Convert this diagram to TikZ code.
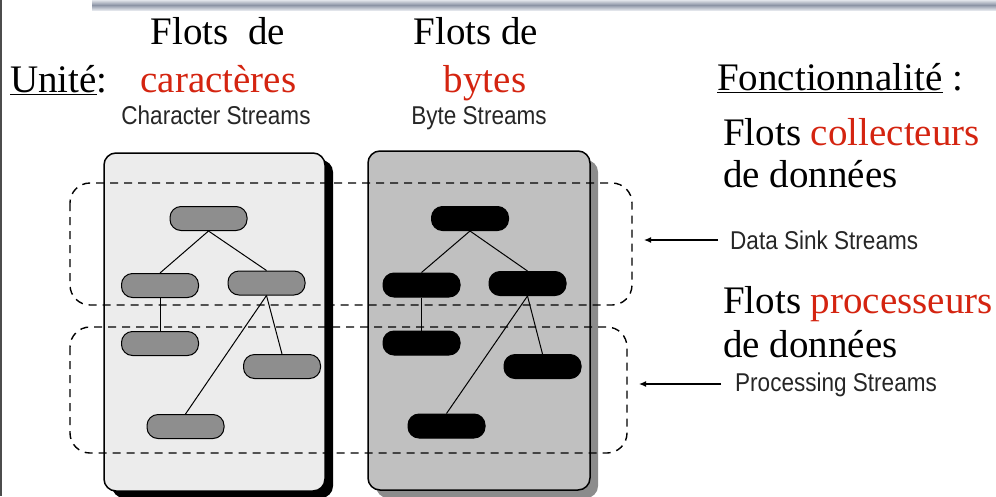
\documentclass[tikz,border=0pt]{standalone}
\usepackage{fontspec}
\setmainfont{Liberation Serif}
\newfontfamily\smallsans{Liberation Sans}
\usetikzlibrary{arrows.meta}
\definecolor{redtxt}{RGB}{212,36,16}
\definecolor{lightpanel}{RGB}{236,236,236}
\definecolor{darkpanel}{RGB}{192,192,192}
\definecolor{darkshadow}{RGB}{140,140,140}
\definecolor{graynode}{RGB}{142,142,142}
\definecolor{barmid}{RGB}{140,148,165}
\definecolor{barlight}{RGB}{225,228,234}
\newcommand{\tallsans}[1]{\scalebox{0.98}[1.12]{#1}}
\begin{document}
\begin{tikzpicture}[x=1pt,y=-1pt,
  big/.style={font=\fontsize{39}{44}\selectfont, inner sep=0pt},
  lbl/.style={font=\smallsans\fontsize{23}{26}\selectfont, inner sep=0pt, text=black!85},
  gnode/.style={draw=black, line width=1pt, fill=graynode, minimum width=77pt, minimum height=24pt, rounded corners=11pt, inner sep=0pt},
  bnode/.style={draw=black, line width=1pt, fill=black, minimum width=77pt, minimum height=24pt, rounded corners=11pt, inner sep=0pt},
  tree/.style={line width=1pt},
  dashbox/.style={dash pattern=on 8pt off 6pt, line width=1.4pt, rounded corners=20pt},
  pointer/.style={line width=1.2pt, -{Latex[length=7pt,width=6pt]}}
]
\useasboundingbox (0,0) rectangle (996,496);
% top bar and left border
\shade[top color=barlight, bottom color=barlight, middle color=barmid] (92,0) rectangle (996,10);
\draw[line width=2pt, black!70] (1,0) -- (1,496);

% panels with shadows
\fill[black, rounded corners=12pt] (112,160) rectangle (333,498);
\fill[lightpanel, draw=black, line width=1.5pt, rounded corners=12pt] (104,153) rectangle (325,491);
\fill[darkshadow, rounded corners=12pt] (376,160) rectangle (598,498);
\fill[darkpanel, draw=black, line width=1.5pt, rounded corners=12pt] (368,151) rectangle (590,490);

% left tree
\node[gnode] (L1) at (208.5,218.5) {};
\node[gnode] (L2) at (160,285.5) {};
\node[gnode] (L3) at (266.5,283) {};
\node[gnode] (L4) at (160,343.5) {};
\node[gnode] (L5) at (282,366.5) {};
\node[gnode] (L6) at (185.5,426.5) {};
\draw[tree] (L1.south) -- (L2.north);
\draw[tree] (L1.south) -- (L3.north);
\draw[tree] (L2.south) -- (L4.north);
\draw[tree] (L3.south) -- (L5.north);
\draw[tree] (L3.south) -- (L6.north);

% right tree
\node[bnode] (R1) at (470,218.5) {};
\node[bnode] (R2) at (421.5,285) {};
\node[bnode] (R3) at (527.5,283.5) {};
\node[bnode] (R4) at (421.5,343) {};
\node[bnode] (R5) at (542.5,366.5) {};
\node[bnode] (R6) at (446.5,426) {};
\draw[tree] (R1.south) -- (R2.north);
\draw[tree] (R1.south) -- (R3.north);
\draw[tree] (R2.south) -- (R4.north);
\draw[tree] (R3.south) -- (R5.north);
\draw[tree] (R3.south) -- (R6.north);

% dashed groups
\draw[dashbox] (70,183) rectangle (632,305);
\draw[dashbox] (70,327) rectangle (627,453);

% headings
\node[big, anchor=base] (fc) at (218,44) {Flots\ \ de};
\node[big, anchor=base] (fb) at (476,44) {Flots de};
\node[big, anchor=base west] (un) at (10,92) {\underline{Unité}:};
\node[big, anchor=base, text=redtxt] (car) at (218.5,92) {caractères};
\node[big, anchor=base, text=redtxt] (byt) at (485,92) {bytes};
\node[lbl, anchor=base] (cs) at (216,124) {\tallsans{Character Streams}};
\node[lbl, anchor=base] (bs) at (479,124) {\tallsans{Byte Streams}};

\node[big, anchor=base west] (fo) at (717,90) {\underline{Fonctionnalité} :};
\node[big, anchor=base west] (col) at (723,145) {Flots \textcolor{redtxt}{collecteurs}};
\node[big, anchor=base west] (dd1) at (723,187) {de données};
\node[big, anchor=base west] (pro) at (723,313) {Flots \textcolor{redtxt}{processeurs}};
\node[big, anchor=base west] (dd2) at (723,357) {de données};

% pointers
\node[lbl, anchor=base west] (ds) at (730,249) {\tallsans{Data Sink Streams}};
\node[lbl, anchor=base west] (ps) at (735,391) {\tallsans{Processing Streams}};
\coordinate (dsend) at (644,240);
\coordinate (psend) at (639,384);
\draw[pointer] (ds.west |- dsend) ++(-12,0) -- (dsend);
\draw[pointer] (ps.west |- psend) ++(-14,0) -- (psend);
\end{tikzpicture}
\end{document}
